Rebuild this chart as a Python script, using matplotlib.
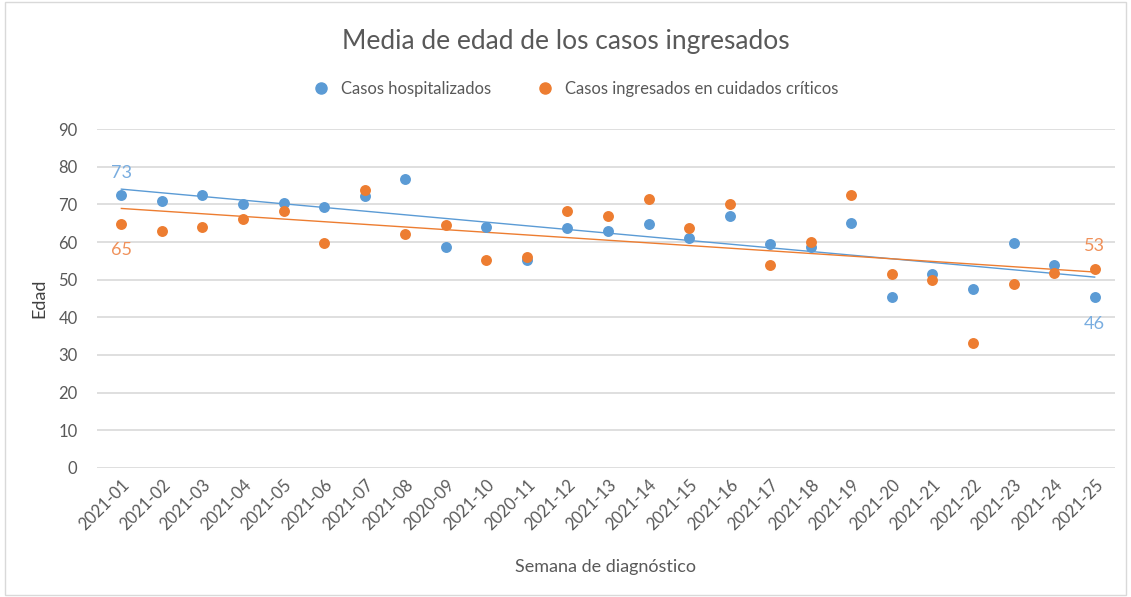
import numpy as np
import matplotlib.pyplot as plt
from matplotlib.patches import Rectangle
from matplotlib.lines import Line2D

plt.rcParams['font.family'] = ['Lato', 'DejaVu Sans']

# weeks on the x axis (as shown in the chart, including the 2020 typos)
semanas = ['2021-01', '2021-02', '2021-03', '2021-04', '2021-05', '2021-06',
           '2021-07', '2021-08', '2020-09', '2021-10', '2020-11', '2021-12',
           '2021-13', '2021-14', '2021-15', '2021-16', '2021-17', '2021-18',
           '2021-19', '2021-20', '2021-21', '2021-22', '2021-23', '2021-24',
           '2021-25']

# mean age, hospitalised cases
hosp = [72.6, 70.8, 72.4, 70.0, 70.3, 69.2, 72.3, 76.6, 58.8, 63.9, 55.3, 63.8,
        63.0, 64.9, 61.1, 67.0, 59.6, 58.8, 65.1, 45.3, 51.5, 47.4, 59.8, 53.9,
        45.5]
# mean age, ICU cases
uci = [64.9, 62.8, 64.1, 66.0, 68.1, 59.8, 73.7, 62.2, 64.4, 55.1, 56.0, 68.1,
       66.8, 71.4, 63.8, 70.1, 53.9, 60.0, 72.4, 51.5, 49.9, 33.3, 48.9, 51.7,
       52.8]

azul = '#5B9BD5'
naranja = '#ED7D31'
gris = '#595959'

fig = plt.figure(figsize=(11.31, 5.97), dpi=100)
ax = fig.add_axes([0.0858, 0.2161, 0.9, 0.5678])

x = np.arange(len(semanas))
ax.scatter(x, hosp, s=62, color=azul, zorder=3, linewidths=0)
ax.scatter(x, uci, s=62, color=naranja, zorder=3, linewidths=0)

# linear trend lines (like Excel's trendline)
for serie, col in [(hosp, azul), (uci, naranja)]:
    m, b = np.polyfit(x, serie, 1)
    ax.plot(x, m * x + b, color=col, lw=1.0, zorder=2)

# first / last data labels
lbl_azul = '#79ADE0'
lbl_nar = '#F0915A'
ax.annotate(f'{round(hosp[0])}', (x[0], hosp[0]), xytext=(0, 10), textcoords='offset points',
            ha='center', va='bottom', color=lbl_azul, fontsize=13)
ax.annotate(f'{round(uci[0])}', (x[0], uci[0]), xytext=(0, -13), textcoords='offset points',
            ha='center', va='top', color=lbl_nar, fontsize=13)
ax.annotate(f'{round(uci[-1])}', (x[-1], uci[-1]), xytext=(0, 11), textcoords='offset points',
            ha='center', va='bottom', color=lbl_nar, fontsize=13)
ax.annotate(f'{round(hosp[-1])}', (x[-1], hosp[-1]), xytext=(0, -14), textcoords='offset points',
            ha='center', va='top', color=lbl_azul, fontsize=13)

ax.set_xlim(-0.6, 24.5)
ax.set_ylim(0, 90)
ax.set_yticks(range(0, 91, 10))
ax.set_xticks(x)
ax.set_xticklabels(semanas, rotation=45, ha='right', rotation_mode='anchor')
ax.tick_params(axis='both', length=0, colors=gris, labelsize=12)
ax.tick_params(axis='y', pad=14)
ax.tick_params(axis='x', pad=6)
ax.grid(axis='y', color='#D9D9D9', lw=1.2)
ax.set_axisbelow(True)
for s in ax.spines.values():
    s.set_visible(False)

ax.set_xlabel('Semana de diagnóstico', color=gris, fontsize=13, labelpad=19)
ax.set_ylabel('Edad', color='#404040', fontsize=13, labelpad=8)

fig.text(0.5, 0.93, 'Media de edad de los casos ingresados', ha='center', va='center',
         color=gris, fontsize=19)

handles = [Line2D([], [], marker='o', ls='', color=azul, markersize=8),
           Line2D([], [], marker='o', ls='', color=naranja, markersize=8)]
fig.legend(handles, ['Casos hospitalizados', 'Casos ingresados en cuidados críticos'],
           loc='center', bbox_to_anchor=(0.505, 0.851), ncol=2, frameon=False,
           fontsize=12, labelcolor=gris, handletextpad=0.2, columnspacing=2.2)

fig.patches.append(Rectangle((0.004, 0.003), 0.992, 0.994, transform=fig.transFigure,
                             fill=False, edgecolor='#D9D9D9', lw=1))

fig.savefig('out.png', dpi=100)
